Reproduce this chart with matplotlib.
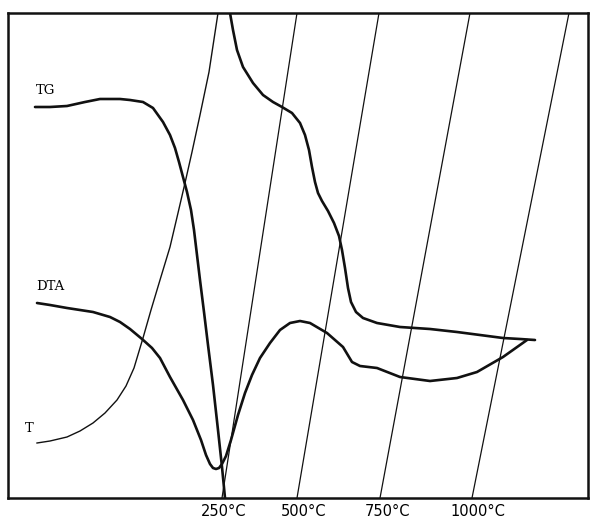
import matplotlib.pyplot as plt

# values (chart pixel units, y grows downward)
tg1_x = [35, 50, 67, 85, 100, 120, 130, 143, 153, 163, 170, 175, 179, 183, 187, 191, 194, 197, 200, 204, 208, 213, 218, 222, 225]
tg1_y = [107, 107, 106, 102, 99, 99, 100, 102, 108, 122, 135, 148, 162, 177, 192, 210, 230, 255, 280, 312, 345, 385, 430, 467, 498]

tg2_x = [230, 233, 237, 243, 253, 263, 273, 282, 292, 300, 305, 309, 312, 315, 318, 322, 328, 334, 339, 342, 345, 348, 351, 356, 363, 377, 400, 430, 457, 480, 503, 520, 535]
tg2_y = [13, 30, 50, 67, 83, 95, 102, 107, 113, 123, 135, 150, 167, 182, 193, 201, 211, 223, 236, 250, 268, 288, 302, 312, 318, 323, 327, 329, 332, 335, 338, 339, 340]

dta_x = [37, 50, 67, 93, 110, 120, 130, 142, 152, 160, 170, 183, 193, 201, 206, 210, 213, 216, 219, 222, 226, 231, 238, 245, 252, 260, 270, 280, 290, 300, 310, 327, 343, 352, 360, 377, 400, 430, 457, 477, 503, 527]
dta_y = [303, 305, 308, 312, 317, 322, 329, 339, 348, 358, 377, 400, 420, 440, 455, 464, 468, 469, 468, 464, 456, 440, 415, 393, 375, 358, 343, 330, 323, 321, 323, 333, 347, 362, 366, 368, 377, 381, 378, 372, 357, 340]

t_x = [37, 50, 67, 80, 93, 105, 117, 126, 134, 143, 151, 160, 170, 178, 185, 192, 200, 209, 218]
t_y = [443, 441, 437, 431, 423, 413, 400, 386, 368, 338, 310, 280, 247, 213, 183, 152, 115, 72, 13]

iso_labels = ['250°C', '500°C', '750°C', '1000°C']
iso_top_x = [297, 379, 470, 569]
iso_bot_x = [222, 297, 380, 472]
iso_label_x = [224, 304, 387, 478]

fig = plt.figure(figsize=(5.91, 5.21), dpi=100)
ax = fig.add_axes([8/591, 23/521, 580/591, 485/521])
ax.set_xlim(8, 588)
ax.set_ylim(498, 13)
ax.set_xticks([])
ax.set_yticks([])
for s in ax.spines.values():
    s.set_linewidth(1.8)
    s.set_color('#111111')

# isotherms
for xt, xb in zip(iso_top_x, iso_bot_x):
    ax.plot([xt, xb], [13, 498], color='#111111', lw=0.9)

ax.plot(t_x, t_y, color='#111111', lw=1.0, solid_joinstyle='round')
ax.plot(tg1_x, tg1_y, color='#111111', lw=1.9, solid_capstyle='round', solid_joinstyle='round')
ax.plot(tg2_x, tg2_y, color='#111111', lw=1.9, solid_capstyle='round', solid_joinstyle='round')
ax.plot(dta_x, dta_y, color='#111111', lw=1.9, solid_capstyle='round', solid_joinstyle='round')

ax.text(36, 90, 'TG', family='DejaVu Serif', fontsize=9.5, va='center', ha='left')
ax.text(36, 287, 'DTA', family='DejaVu Serif', fontsize=9.5, va='center', ha='left')
ax.text(25, 429, 'T', family='DejaVu Serif', fontsize=9.5, va='center', ha='left')

for lab, lx in zip(iso_labels, iso_label_x):
    ax.text(lx, 511, lab, fontsize=10.5, ha='center', va='center', clip_on=False)

fig.savefig('out.png', dpi=100)
